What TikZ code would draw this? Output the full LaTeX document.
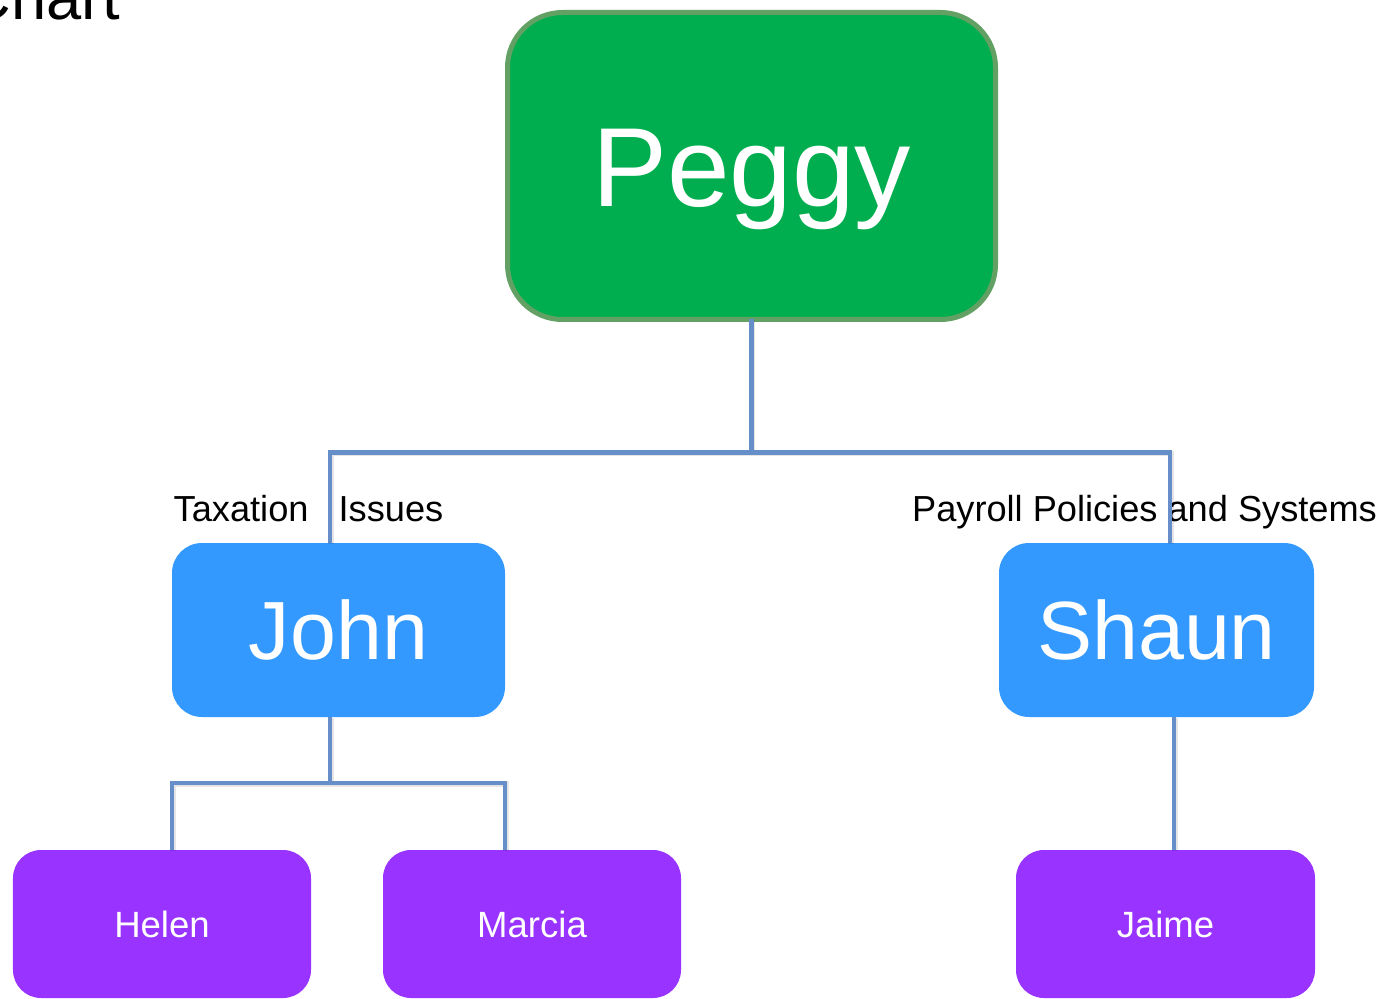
\documentclass[tikz,border=0pt]{standalone}
\usepackage{fontspec}
\setmainfont{Liberation Sans}
\usetikzlibrary{positioning,calc}
\definecolor{peggyfill}{RGB}{0,174,79}
\definecolor{peggyline}{RGB}{98,160,100}
\definecolor{midfill}{RGB}{51,153,255}
\definecolor{lowfill}{RGB}{153,51,255}
\definecolor{wirec}{RGB}{102,143,201}

\begin{document}
\begin{tikzpicture}[every node/.style={outer sep=0pt},
 box/.style={inner sep=0pt,text=white,text depth=0pt},
 top/.style={box,fill=peggyfill,draw=peggyline,line width=0.05cm,rounded corners=0.55cm,
  minimum width=4.88cm,minimum height=3.07cm,text height=0.8cm,font=\fontsize{32}{38}\selectfont},
 mid/.style={box,fill=midfill,rounded corners=0.3cm,minimum height=1.74cm,
  text height=0.59cm,font=\fontsize{23.5}{28}\selectfont},
 low/.style={box,fill=lowfill,rounded corners=0.28cm,minimum width=2.98cm,minimum height=1.48cm,
  text height=0.26cm,font=\fontsize{10.4}{12}\selectfont},
 tag/.style={anchor=base,font=\fontsize{10.3}{12}\selectfont},
 wire/.style={draw=wirec,line width=0.045cm,
  preaction={draw=black,opacity=0.1,line width=0.055cm,transform canvas={shift={(0.01,-0.01)}}}}]

  \useasboundingbox (0,0) rectangle (13.85,-9.99);
  \clip (0,0) rectangle (13.85,-9.99);

  \node[anchor=base east,font=\fontsize{18}{20}\selectfont] (title) at (1.32,-0.2) {Chart};

  \node[top] (peggy) at (7.515,-1.66) {Peggy};
  \node[mid,minimum width=3.33cm] (john) at (3.385,-6.30) {John};
  \node[mid,minimum width=3.15cm] (shaun) at (11.565,-6.30) {Shaun};
  \node[low] (helen) at (1.62,-9.24) {Helen};
  \node[low] (marcia) at (5.32,-9.24) {Marcia};
  \node[low,minimum width=2.99cm] (jaime) at (11.655,-9.24) {Jaime};

  \node[tag] (tax) at ($(john.north)+(-0.3,0.21)$) {Taxation\ \ \ Issues};
  \node[tag] (pay) at ($(shaun.north)+(-0.12,0.21)$) {Payroll Policies and Systems};

  % connectors
  \draw[wire] (peggy.south) -- ++(0,-1.33) coordinate (pj);
  \draw[wire] ([xshift=-0.085cm]john.north) |- (pj) -| ([xshift=0.135cm]shaun.north);
  \draw[wire] ([xshift=-0.085cm]john.south) -- ++(0,-0.66) coordinate (jj);
  \draw[wire] ([xshift=0.1cm]helen.north) |- (jj) -| ([xshift=-0.27cm]marcia.north);
  \draw[wire] ([xshift=0.085cm]jaime.north) -- ([xshift=0.085cm]jaime.north |- shaun.south);

\end{tikzpicture}
\end{document}
